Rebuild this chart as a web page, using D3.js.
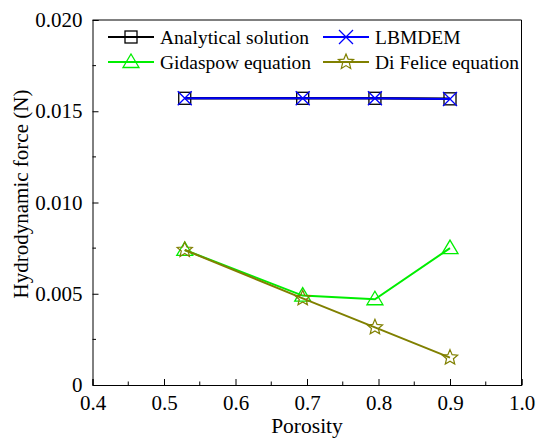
<!DOCTYPE html>
<html><head><meta charset="utf-8">
<script src="https://cdn.jsdelivr.net/npm/d3@7"></script>
<style>
body{margin:0;background:#fff}
svg{display:block}
svg text{font-family:"Liberation Serif","Times New Roman",serif !important}
</style>
</head><body>
<script>
const porosity = [0.529, 0.694, 0.795, 0.900];
const analytical = [0.01571, 0.01571, 0.01571, 0.01568];
const lbmdem = [0.01571, 0.01571, 0.01571, 0.01567];
const gidaspow = [0.0074, 0.0049, 0.0047, 0.0075];
const difelice = [0.0074, 0.00475, 0.00316, 0.0015];
const xTicks = [0.4, 0.5, 0.6, 0.7, 0.8, 0.9, 1.0];
const yTicks = [0, 0.005, 0.010, 0.015, 0.020];
const seriesNames = ["Analytical solution", "LBMDEM", "Gidaspow equation", "Di Felice equation"];
const seriesColors = ["#000000", "#0000ff", "#00ee00", "#808000"];
const seriesMarkers = ["square", "cross", "triangle", "star"];

const W = 536, H = 439;
const m = {l: 92.5, r: 14.5, t: 20, b: 54};
const svg = d3.select("body").append("svg").attr("width", W).attr("height", H);
const x = d3.scaleLinear().domain([0.4, 1.0]).range([m.l, W - m.r]);
const y = d3.scaleLinear().domain([0, 0.020]).range([H - m.b, m.t]);

function marker(g, type, cx, cy, color) {
  if (type === "square") {
    g.append("rect").attr("x", cx - 6).attr("y", cy - 6).attr("width", 12).attr("height", 12)
      .attr("fill", "none").attr("stroke", color).attr("stroke-width", 1.3);
  } else if (type === "cross") {
    g.append("path").attr("d", `M${cx-7},${cy-7}L${cx+7},${cy+7}M${cx-7},${cy+7}L${cx+7},${cy-7}`)
      .attr("stroke", color).attr("stroke-width", 1.3).attr("fill", "none");
  } else if (type === "triangle") {
    g.append("path").attr("d", `M${cx},${cy-8}L${cx+8},${cy+5.5}L${cx-8},${cy+5.5}Z`)
      .attr("fill", "none").attr("stroke", color).attr("stroke-width", 1.3);
  } else if (type === "star") {
    const pts = [];
    for (let i = 0; i < 10; i++) {
      const r = i % 2 === 0 ? 8 : 3.6;
      const a = -Math.PI / 2 + i * Math.PI / 5;
      pts.push([cx + r * Math.cos(a), cy + r * Math.sin(a)]);
    }
    g.append("path").attr("d", "M" + pts.map(p => p.join(",")).join("L") + "Z")
      .attr("fill", "none").attr("stroke", color).attr("stroke-width", 1.2);
  }
}

// axes
const xAxis = d3.axisBottom(x).tickValues(xTicks).tickSize(-6).tickPadding(10).tickFormat(d3.format(".1f"));
const gx = svg.append("g").attr("transform", `translate(0,${H - m.b})`).call(xAxis);
const xMinor = d3.range(0.45, 1.0, 0.1);
gx.selectAll(".minor").data(xMinor).enter().append("line").attr("x1", d => x(d)).attr("x2", d => x(d))
  .attr("y1", 0).attr("y2", -3.5).attr("stroke", "#000");

const yAxis = d3.axisLeft(y).tickValues(yTicks).tickSize(-6).tickPadding(10)
  .tickFormat(d => d === 0 ? "0" : d3.format(".3f")(d));
const gy = svg.append("g").attr("transform", `translate(${m.l},0)`).call(yAxis);
const yMinor = [0.0025, 0.0075, 0.0125, 0.0175];
gy.selectAll(".minor").data(yMinor).enter().append("line").attr("y1", d => y(d)).attr("y2", d => y(d))
  .attr("x1", 0).attr("x2", 3.5).attr("stroke", "#000");
[gx, gy].forEach(g => g.attr("font-family", null).attr("font-size", null));
svg.selectAll(".domain").attr("stroke", "#000");
svg.selectAll(".tick line").attr("stroke", "#000");
svg.selectAll(".tick text").attr("fill", "#000").attr("font-size", 21);
// top & right border
svg.append("path").attr("d", `M${m.l},${m.t}H${W - m.r}V${H - m.b}`).attr("fill", "none").attr("stroke", "#000");

// axis titles
svg.append("text").attr("x", (m.l + W - m.r) / 2).attr("y", 433).attr("text-anchor", "middle")
  .attr("font-size", 21.5).text("Porosity");
svg.append("text").attr("transform", `translate(28,194) rotate(-90)`)
  .attr("text-anchor", "middle").attr("font-size", 21).text("Hydrodynamic force (N)");

// series
const data = [analytical, lbmdem, gidaspow, difelice];
const line = d3.line().x((d, i) => x(porosity[i])).y(d => y(d));
const widths = [2.5, 2, 2, 2];
data.forEach((vals, k) => {
  const g = svg.append("g");
  g.append("path").datum(vals).attr("d", line).attr("fill", "none")
    .attr("stroke", seriesColors[k]).attr("stroke-width", widths[k]);
  vals.forEach((v, i) => marker(g, seriesMarkers[k], x(porosity[i]), y(v), seriesColors[k]));
});

// legend
const legPos = [[108, 37], [323, 37], [108, 62], [323, 62]];
seriesNames.forEach((name, k) => {
  const [lx, ly] = legPos[k];
  const g = svg.append("g");
  g.append("line").attr("x1", lx).attr("x2", lx + 46).attr("y1", ly).attr("y2", ly)
    .attr("stroke", seriesColors[k]).attr("stroke-width", 2);
  marker(g, seriesMarkers[k], lx + 23, ly, seriesColors[k]);
  g.append("text").attr("x", lx + 52).attr("y", ly).attr("dy", "0.35em")
    .attr("font-size", 19.5).text(name);
});
</script>
</body></html>
